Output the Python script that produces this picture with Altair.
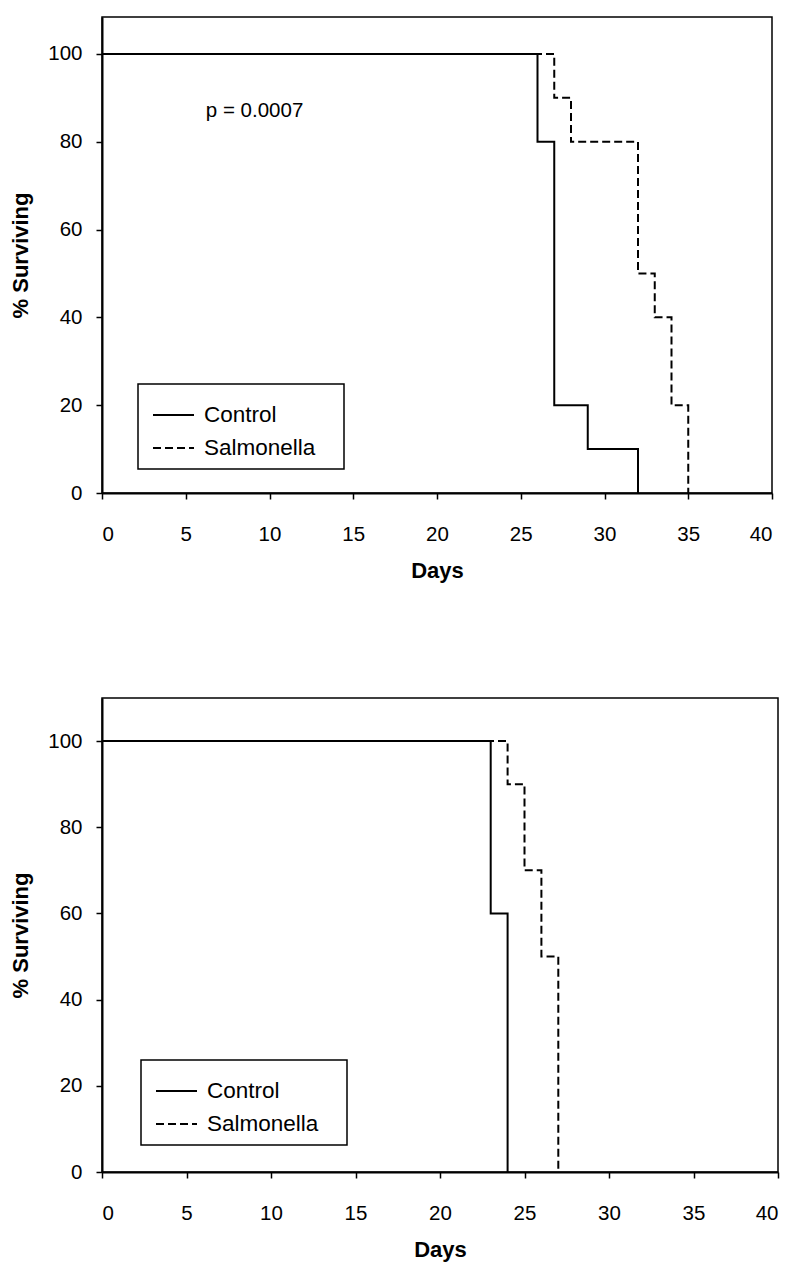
import altair as alt
import pandas as pd

groups = ["Control", "Salmonella"]

# Panel A (top)
a_control_days = [0, 26, 27, 29, 32]
a_control_surv = [100, 80, 20, 10, 0]
a_salm_days = [0, 27, 28, 32, 33, 34, 35]
a_salm_surv = [100, 90, 80, 50, 40, 20, 0]

# Panel B (bottom)
b_control_days = [0, 23, 24]
b_control_surv = [100, 60, 0]
b_salm_days = [0, 24, 25, 26, 27]
b_salm_surv = [100, 90, 70, 50, 0]

x_ticks = [0, 5, 10, 15, 20, 25, 30, 35, 40]
y_ticks = [0, 20, 40, 60, 80, 100]

p_label = ["p = 0.0007"]
p_day = [6.2]
p_surv = [87]

FONT = "Liberation Sans"


def make_df(cd, cs, sd, ss):
    rows = []
    for d, s in zip(cd, cs):
        rows.append({"day": d, "surv": s, "group": groups[0]})
    for d, s in zip(sd, ss):
        rows.append({"day": d, "surv": s, "group": groups[1]})
    return pd.DataFrame(rows)


def panel(df, ymax, width, height, lx, ly, ann=None):
    lines = alt.Chart(df).mark_line(
        interpolate="step-after", strokeWidth=2, color="black"
    ).encode(
        x=alt.X("day:Q",
                scale=alt.Scale(domain=[0, 40], nice=False),
                axis=alt.Axis(values=x_ticks, title="Days", labelPadding=25,
                              titleY=67, titleBaseline="top")),
        y=alt.Y("surv:Q",
                scale=alt.Scale(domain=[0, ymax], nice=False),
                axis=alt.Axis(values=y_ticks, title="% Surviving", labelPadding=14,
                              titleX=-70, titleY=height / 2)),
        strokeDash=alt.StrokeDash(
            "group:N",
            scale=alt.Scale(domain=groups, range=[[1, 0], [8, 4]]),
            legend=alt.Legend(
                orient="none", legendX=lx, legendY=ly, title=None,
                strokeColor="black", fillColor="white", padding=9.5,
                symbolOffset=4.5, symbolType="stroke", symbolSize=1681,
                symbolStrokeWidth=2, symbolStrokeColor="black",
                labelFontSize=22.5, labelFont=FONT, labelOffset=9,
                rowPadding=-6,
                labelExpr="datum.label + '\u00a0\u00a0\u00a0\u200b'",
            ),
        ),
    )
    layers = [lines]
    if ann is not None:
        txt = alt.Chart(ann).mark_text(
            align="left", baseline="middle", fontSize=20.5, font=FONT, color="black"
        ).encode(x="day:Q", y="surv:Q", text="label:N")
        layers.append(txt)
    return alt.layer(*layers).properties(width=width, height=height)


df_a = make_df(a_control_days, a_control_surv, a_salm_days, a_salm_surv)
df_b = make_df(b_control_days, b_control_surv, b_salm_days, b_salm_surv)
ann_a = pd.DataFrame({"day": p_day, "surv": p_surv, "label": p_label})

top = panel(df_a, 108.4, 670, 476, 36, 367, ann_a)
bottom = panel(df_b, 110, 676, 474, 39, 362)

chart = alt.vconcat(top, bottom, spacing=115).resolve_scale(
    strokeDash="independent"
).resolve_legend(strokeDash="independent").properties(
    padding={"left": 0, "top": 8, "right": 5, "bottom": 5}
).configure_axis(
    grid=False, domainColor="black", domainWidth=2, tickColor="black",
    tickWidth=1.5, tickSize=6, labelFont=FONT, labelFontSize=20.5,
    labelColor="black", titleFont=FONT, titleFontSize=22,
    titleFontWeight="bold", titleColor="black",
).configure_view(
    stroke="black", strokeWidth=1.5
).configure_legend(
    strokeWidth=1.5
)

chart.save("out.html", embed_options={"renderer": "svg", "actions": False})
